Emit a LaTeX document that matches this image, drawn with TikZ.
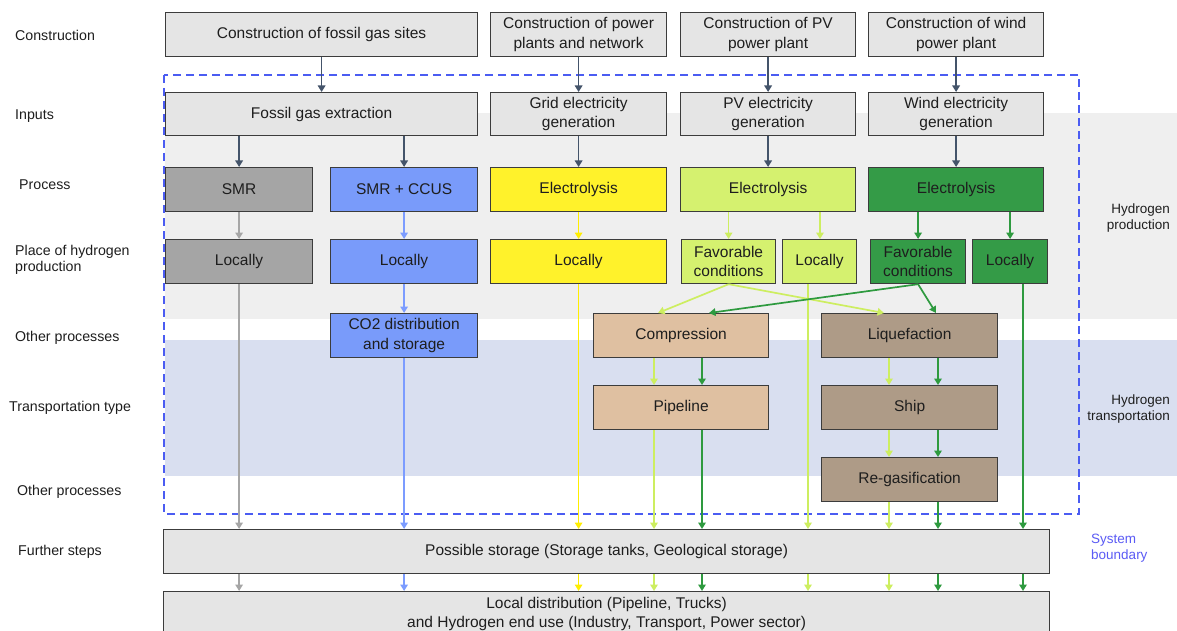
\documentclass[tikz,border=0pt]{standalone}
\usepackage{fontspec}
\setmainfont{Liberation Sans}
\usetikzlibrary{arrows.meta,calc}
\definecolor{bord}{HTML}{3C3C3C}
\definecolor{txt}{HTML}{1E1E1E}
\definecolor{lightbox}{HTML}{E5E5E5}
\definecolor{bandgrey}{HTML}{EFEFEF}
\definecolor{bandblue}{HTML}{D9DFF0}
\definecolor{smrgrey}{HTML}{A5A5A5}
\definecolor{ccusblue}{HTML}{799BFA}
\definecolor{yel}{HTML}{FFF22B}
\definecolor{lg}{HTML}{D5F16F}
\definecolor{dg}{HTML}{349B47}
\definecolor{tan}{HTML}{DFC0A1}
\definecolor{brn}{HTML}{AE9B87}
\definecolor{arrowdark}{HTML}{44546A}
\definecolor{arrowgrey}{HTML}{A6A6A6}
\definecolor{arrowblue}{HTML}{7C9CFF}
\definecolor{arrowyel}{HTML}{FFEE00}
\definecolor{arrowlg}{HTML}{CDEE60}
\definecolor{arrowdg}{HTML}{2E9A3F}
\definecolor{dashblue}{HTML}{4B5CF2}
\definecolor{sysblue}{HTML}{5B5BF5}
\newcommand{\mybox}[7]{\node[box,#2,anchor=north west,minimum width={(#5)-(#3)},minimum height={(#6)-(#4)}] (#1) at (#3,#4) {#7};}
\begin{document}
\begin{tikzpicture}[x=1pt,y=-1pt,
  box/.style={draw=bord,line width=1.2pt,inner sep=0pt,align=center,text=txt,font=\fontsize{15.5}{19.5}\selectfont},
  lbl/.style={anchor=west,align=left,inner sep=0pt,text=txt,font=\fontsize{14.2}{16}\selectfont},
  rlbl/.style={anchor=east,align=right,inner sep=0pt,text=txt,font=\fontsize{13.5}{16}\selectfont},
  arr/.style={line width=1.7pt,-{Triangle[length=6.5pt,width=7.5pt]}},
  darr/.style={arr,draw=arrowdark,fill=arrowdark},
  garr/.style={arr,draw=arrowgrey,fill=arrowgrey},
  barr/.style={arr,draw=arrowblue,fill=arrowblue},
  yarr/.style={arr,draw=arrowyel,fill=arrowyel},
  lgarr/.style={arr,draw=arrowlg,fill=arrowlg},
  dgarr/.style={arr,draw=arrowdg,fill=arrowdg},
  boundary/.style={draw=dashblue,line width=2pt,dash pattern=on 8pt off 5pt}
]
\clip (0,0) rectangle (1177,631);
\fill[white] (0,0) rectangle (1177,631);
% bands
\fill[bandgrey] (165,113) rectangle (1177,319);
\fill[bandblue] (165,340) rectangle (1177,476);

% left labels
\node[lbl] (l1) at (15,35) {Construction};
\node[lbl] (l2) at (15,116) {Inputs};
\node[lbl] (l3) at (19,185) {Process};
\node[lbl] (l4) at (15,260) {Place of hydrogen\\production};
\node[lbl] (l5) at (15,338) {Other processes};
\node[lbl] (l6) at (9,408) {Transportation type};
\node[lbl] (l7) at (17,492) {Other processes};
\node[lbl] (l8) at (18,552) {Further steps};

% right labels
\node[rlbl] (r1) at (1170,218) {Hydrogen\\production};
\node[rlbl] (r2) at (1170,409) {Hydrogen\\transportation};
\node[rlbl,anchor=west,align=left,text=sysblue] (r3) at (1091,548) {System\\boundary};

% boxes
\mybox{cfos}{fill=lightbox}{165}{12}{477}{56}{Construction of fossil gas sites}
\mybox{cgrid}{fill=lightbox}{490}{12}{666}{56}{Construction of power\\plants and network}
\mybox{cpv}{fill=lightbox}{680}{12}{855}{56}{Construction of PV\\power plant}
\mybox{cwind}{fill=lightbox}{868}{12}{1043}{56}{Construction of wind\\power plant}

\mybox{ifos}{fill=lightbox}{165}{92}{477}{135}{Fossil gas extraction}
\mybox{igrid}{fill=lightbox}{490}{92}{666}{135}{Grid electricity\\generation}
\mybox{ipv}{fill=lightbox}{680}{92}{855}{135}{PV electricity\\generation}
\mybox{iwind}{fill=lightbox}{868}{92}{1043}{135}{Wind electricity\\generation}

\mybox{smr}{fill=smrgrey}{165}{167}{312}{211}{SMR}
\mybox{ccus}{fill=ccusblue}{330}{167}{477}{211}{SMR + CCUS}
\mybox{ely}{fill=yel}{490}{167}{666}{211}{Electrolysis}
\mybox{elg}{fill=lg}{680}{167}{855}{211}{Electrolysis}
\mybox{edg}{fill=dg}{868}{167}{1043}{211}{Electrolysis}

\mybox{lgrey}{fill=smrgrey}{165}{239}{312}{283}{Locally}
\mybox{lblue}{fill=ccusblue}{330}{239}{477}{283}{Locally}
\mybox{lyel}{fill=yel}{490}{239}{666}{283}{Locally}
\mybox{flg}{fill=lg}{681}{239}{775}{283}{Favorable\\conditions}
\mybox{llg}{fill=lg}{782}{239}{856}{283}{Locally}
\mybox{fdg}{fill=dg}{870}{239}{965}{283}{Favorable\\conditions}
\mybox{ldg}{fill=dg}{972}{239}{1047}{283}{Locally}

\mybox{co2}{fill=ccusblue}{330}{313}{477}{357}{CO2 distribution\\and storage}
\mybox{comp}{fill=tan}{593}{313}{768}{357}{Compression}
\mybox{liq}{fill=brn}{821}{313}{997}{357}{Liquefaction}
\mybox{pipe}{fill=tan}{593}{385}{768}{429}{Pipeline}
\mybox{ship}{fill=brn}{821}{385}{997}{429}{Ship}
\mybox{regas}{fill=brn}{821}{457}{997}{501}{Re-gasification}

\mybox{stor}{fill=lightbox}{163}{529}{1049}{573}{Possible storage (Storage tanks, Geological storage)}
\mybox{dist}{fill=lightbox}{163}{591}{1049}{636}{Local distribution (Pipeline, Trucks)\\and Hydrogen end use (Industry, Transport, Power sector)}

% system boundary
\draw[boundary] (164,75) rectangle (1079,514);

% x positions of flows
\coordinate (xg) at (lgrey.south);
\coordinate (xb) at (lblue.south);
\coordinate (xy) at (lyel.south);
\coordinate (xl1) at (654,0);
\coordinate (xd1) at (702,0);
\coordinate (xl2) at (808,0);
\coordinate (xl3) at (889,0);
\coordinate (xd3) at (938,0);
\coordinate (xd2) at (1023,0);
\coordinate (cl1) at (658,0);
\coordinate (cd1) at (709,0);
\coordinate (cl3) at (884,0);
\coordinate (cd3) at (936,0);
\coordinate (xll) at (820,0);

% construction -> inputs
\draw[darr] (cfos.south) -- (ifos.north);
\draw[darr] (cgrid.south) -- (igrid.north);
\draw[darr] (cpv.south) -- (ipv.north);
\draw[darr] (cwind.south) -- (iwind.north);
% inputs -> process
\draw[darr] (ifos.south -| smr.north) -- (smr.north);
\draw[darr] (ifos.south -| ccus.north) -- (ccus.north);
\draw[darr] (igrid.south) -- (ely.north);
\draw[darr] (ipv.south) -- (elg.north);
\draw[darr] (iwind.south) -- (edg.north);
% process -> place
\draw[garr] (smr.south) -- (lgrey.north);
\draw[barr] (ccus.south) -- (lblue.north);
\draw[yarr] (ely.south) -- (lyel.north);
\draw[lgarr] (elg.south -| flg.north) -- (flg.north);
\draw[lgarr] (elg.south -| xll) -- (llg.north -| xll);
\draw[dgarr] (edg.south -| fdg.north) -- (fdg.north);
\draw[dgarr] (edg.south -| ldg.north) -- (ldg.north);
% place -> further
\draw[garr] (lgrey.south) -- (stor.north -| xg);
\draw[barr] (lblue.south) -- (co2.north);
\draw[barr] (co2.south) -- (stor.north -| xb);
\draw[yarr] (lyel.south) -- (stor.north -| xy);
\draw[lgarr] (llg.south -| xl2) -- (stor.north -| xl2);
\draw[dgarr] (ldg.south -| xd2) -- (stor.north -| xd2);
% favorable -> compression / liquefaction
\draw[lgarr] (flg.south) -- (comp.north -| cl1);
\draw[lgarr] (flg.south) -- (liq.north -| cl3);
\draw[dgarr] (fdg.south) -- (comp.north -| cd1);
\draw[dgarr] (fdg.south) -- (liq.north -| cd3);
% transport chains
\draw[lgarr] (comp.south -| xl1) -- (pipe.north -| xl1);
\draw[dgarr] (comp.south -| xd1) -- (pipe.north -| xd1);
\draw[lgarr] (pipe.south -| xl1) -- (stor.north -| xl1);
\draw[dgarr] (pipe.south -| xd1) -- (stor.north -| xd1);
\draw[lgarr] (liq.south -| xl3) -- (ship.north -| xl3);
\draw[dgarr] (liq.south -| xd3) -- (ship.north -| xd3);
\draw[lgarr] (ship.south -| xl3) -- (regas.north -| xl3);
\draw[dgarr] (ship.south -| xd3) -- (regas.north -| xd3);
\draw[lgarr] (regas.south -| xl3) -- (stor.north -| xl3);
\draw[dgarr] (regas.south -| xd3) -- (stor.north -| xd3);
% storage -> distribution
\foreach \c/\s in {xg/garr,xb/barr,xy/yarr,xl1/lgarr,xd1/dgarr,xl2/lgarr,xl3/lgarr,xd3/dgarr,xd2/dgarr}
  \draw[\s] (stor.south -| \c) -- (dist.north -| \c);
\end{tikzpicture}
\end{document}
